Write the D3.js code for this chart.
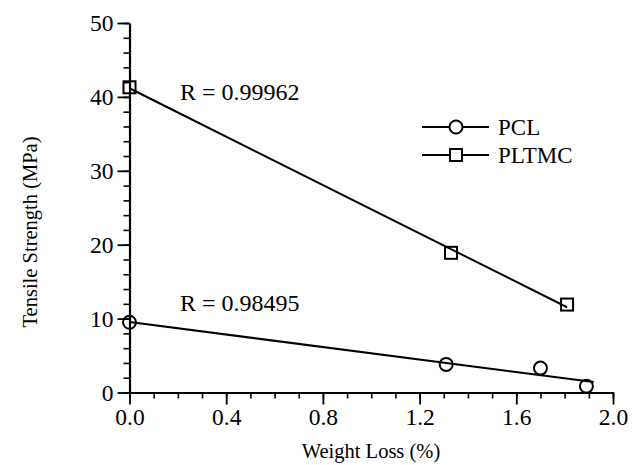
<!DOCTYPE html>
<html><head><meta charset="utf-8">
<script src="https://cdn.jsdelivr.net/npm/d3@7"></script>
<style>body{margin:0;background:#fff}svg{display:block}</style>
</head><body>
<svg id="c" width="641" height="465"></svg>
<script>
const pclX = [0, 1.31, 1.70, 1.89];
const pclY = [9.5, 3.8, 3.3, 0.85];
const pltmcX = [0, 1.33, 1.81];
const pltmcY = [41.3, 18.9, 11.9];
const pclFitRange = [0, 1.92];
const pltmcFitRange = [0, 1.81];
const xTicks = [0.0, 0.4, 0.8, 1.2, 1.6, 2.0];
const yTicks = [0, 10, 20, 30, 40, 50];
const rLabels = ["R = 0.99962", "R = 0.98495"];
const seriesNames = ["PCL", "PLTMC"];

const svg = d3.select("#c");
const font = "'Liberation Serif','Times New Roman',serif";
const x = d3.scaleLinear().domain([0, 2]).range([129.5, 613]);
const y = d3.scaleLinear().domain([0, 50]).range([392.5, 23]);

function fit(xs, ys) {
  const mx = d3.mean(xs), my = d3.mean(ys);
  let sxy = 0, sxx = 0;
  xs.forEach((v, i) => { sxy += (v - mx) * (ys[i] - my); sxx += (v - mx) * (v - mx); });
  const b = sxy / sxx, a = my - b * mx;
  return v => a + b * v;
}

// minor ticks
const xMinor = d3.range(0, 2.0001, 0.1).map(v => +v.toFixed(2));
const yMinor = d3.range(0, 50.001, 2);
svg.append("g").attr("transform", "translate(0,392.5)")
  .call(d3.axisBottom(x).tickValues(xMinor).tickSize(6).tickFormat("").tickSizeOuter(0))
  .call(g => g.select(".domain").remove())
  .call(g => g.selectAll("line").attr("stroke", "#000").attr("stroke-width", 1.6));
svg.append("g").attr("transform", "translate(129.5,0)")
  .call(d3.axisLeft(y).tickValues(yMinor).tickSize(6).tickFormat("").tickSizeOuter(0))
  .call(g => g.select(".domain").remove())
  .call(g => g.selectAll("line").attr("stroke", "#000").attr("stroke-width", 1.6));

// major axes
const xa = svg.append("g").attr("transform", "translate(0,392.5)")
  .call(d3.axisBottom(x).tickValues(xTicks).tickSize(12).tickSizeOuter(0).tickPadding(4).tickFormat(d3.format(".1f")));
const ya = svg.append("g").attr("transform", "translate(129.5,0)")
  .call(d3.axisLeft(y).tickValues(yTicks).tickSize(12).tickSizeOuter(0).tickPadding(4).tickFormat(d3.format("d")));
[xa, ya].forEach(g => {
  g.select(".domain").attr("stroke", "#000").attr("stroke-width", 2.2);
  g.selectAll(".tick line").attr("stroke", "#000").attr("stroke-width", 1.8);
  g.selectAll(".tick text").attr("fill", "#000").style("font-family", font).style("font-size", "23.5px");
});

// fit lines
const pclF = fit(pclX, pclY), pltF = fit(pltmcX, pltmcY);
const line = d3.line().x(d => x(d[0])).y(d => y(d[1]));
svg.append("path").attr("d", line(pltmcFitRange.map(v => [v, pltF(v)])))
  .attr("stroke", "#000").attr("stroke-width", 2).attr("fill", "none");
svg.append("path").attr("d", line(pclFitRange.map(v => [v, pclF(v)])))
  .attr("stroke", "#000").attr("stroke-width", 2).attr("fill", "none");

// markers
svg.selectAll(".pcl").data(pclX.map((v, i) => [v, pclY[i]])).enter().append("circle")
  .attr("cx", d => x(d[0])).attr("cy", d => y(d[1])).attr("r", 6.5)
  .attr("fill", "none").attr("stroke", "#000").attr("stroke-width", 2);
svg.selectAll(".plt").data(pltmcX.map((v, i) => [v, pltmcY[i]])).enter().append("rect")
  .attr("x", d => x(d[0]) - 6).attr("y", d => y(d[1]) - 6).attr("width", 12).attr("height", 12)
  .attr("fill", "none").attr("stroke", "#000").attr("stroke-width", 2);

// R labels
svg.append("text").attr("x", 180).attr("y", 100).text(rLabels[0])
  .style("font-family", font).style("font-size", "24px");
svg.append("text").attr("x", 180).attr("y", 311).text(rLabels[1])
  .style("font-family", font).style("font-size", "24px");

// legend
const lg = svg.append("g");
[127, 155].forEach((ly, i) => {
  lg.append("line").attr("x1", 422).attr("x2", 489).attr("y1", ly).attr("y2", ly)
    .attr("stroke", "#000").attr("stroke-width", 2);
  if (i === 0) lg.append("circle").attr("cx", 456).attr("cy", ly).attr("r", 6.5)
    .attr("fill", "#fff").attr("stroke", "#000").attr("stroke-width", 2);
  else lg.append("rect").attr("x", 450).attr("y", ly - 6).attr("width", 12).attr("height", 12)
    .attr("fill", "#fff").attr("stroke", "#000").attr("stroke-width", 2);
  lg.append("text").attr("x", 498).attr("y", ly + 8).text(seriesNames[i])
    .style("font-family", font).style("font-size", "23px");
});

// axis titles
svg.append("text").attr("x", 371).attr("y", 458).attr("text-anchor", "middle")
  .text("Weight Loss (%)").style("font-family", font).style("font-size", "20.5px");
svg.append("text").attr("transform", "translate(37,232) rotate(-90)").attr("text-anchor", "middle")
  .text("Tensile Strength (MPa)").style("font-family", font).style("font-size", "20.5px");
</script>
</body></html>
